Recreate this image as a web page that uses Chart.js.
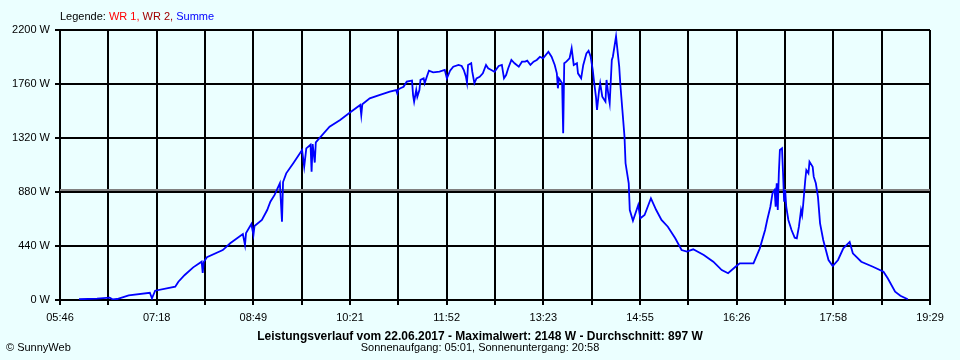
<!DOCTYPE html>
<html>
<head>
<meta charset="utf-8">
<script src="https://cdn.jsdelivr.net/npm/chart.js@4/dist/chart.umd.min.js"></script>
<style>
html,body{margin:0;padding:0;background:#EBFFFF;}
#wrap{position:relative;width:960px;height:360px;font-family:"Liberation Sans",Arial,sans-serif;font-size:11px;color:#000;overflow:hidden;}
#c{position:absolute;left:0;top:0;}
.t{position:absolute;white-space:nowrap;line-height:1;}
</style>
</head>
<body>
<div id="wrap">
<canvas id="c" width="960" height="360"></canvas>
<div class="t" style="left:60px;top:11px;">Legende: <span style="color:#FF0000">WR 1,</span> <span style="color:#A00000">WR 2,</span> <span style="color:#0000FF">Summe</span></div>
<div class="t" style="left:0;width:960px;text-align:center;top:330px;font-weight:bold;font-size:12px;">Leistungsverlauf vom 22.06.2017 - Maximalwert: 2148 W - Durchschnitt: 897 W</div>
<div class="t" style="left:0;width:960px;text-align:center;top:342px;">Sonnenaufgang: 05:01, Sonnenuntergang: 20:58</div>
<div class="t" style="left:6px;top:342px;">© SunnyWeb</div>
</div>
<script>
// Time in minutes since midnight
const X_MIN = 346;   // 05:46
const X_MAX = 1169;  // 19:29
const xTickLabels = ["05:46","07:18","08:49","10:21","11:52","13:23","14:55","16:26","17:58","19:29"];
const yTicks = [0, 440, 880, 1320, 1760, 2200];
const averageW = 897;

const times = [
 364,381,393,396,400,411,431,433,436,455,
 458,464,472,480,481,482,485,500,507,519,
 521,522,527,529,530,537,542,545,549,554,
 556,557,560,567,575,577,579,583,584,585,
 587,588,590,601,611,620,630,631,632,639,
 648,658,664,665,666,668,671,674,679,680,
 681,683,684,686,687,690,691,693,695,699,
 705,710,712,715,718,723,726,728,730,731,
 732,735,736,738,740,743,746,749,751,754,
 757,761,764,766,768,770,773,776,780,783,
 786,788,791,794,797,800,803,808,811,814,
 816,817,818,821,822,823,825,828,830,832,
 835,836,839,841,844,846,848,850,851,853,
 854,856,857,859,862,863,865,866,868,869,
 872,873,875,876,877,878,880,881,884,885,
 888,893,895,899,905,910,915,921,928,934,
 939,945,955,964,972,978,985,989,1002,1008,
 1013,1015,1018,1020,1022,1023,1024,1025,1026,1027,
 1029,1030,1031,1032,1033,1035,1038,1041,1043,1045,
 1047,1048,1049,1051,1052,1054,1055,1058,1059,1061,
 1063,1065,1068,1073,1077,1082,1087,1093,1096,1104,
 1115,1125,1129,1136,1141,1148
];
const summe = [
 6,11,19,4,8,38,59,14,76,108,
 149,204,266,312,220,310,348,407,462,538,
 448,546,619,530,603,652,733,801,856,951,
 638,961,1032,1119,1222,1086,1235,1265,1045,1270,
 1120,1285,1304,1412,1467,1526,1589,1507,1595,1643,
 1670,1697,1710,1684,1715,1725,1738,1779,1787,1670,
 1616,1711,1656,1711,1793,1806,1766,1819,1868,1855,
 1860,1874,1806,1868,1901,1915,1907,1874,1819,1771,
 1915,1929,1860,1766,1806,1819,1847,1915,1888,1874,
 1860,1907,1915,1806,1833,1888,1956,1929,1901,1942,
 1942,1950,1915,1942,1956,1982,1969,2023,1982,1915,
 1847,1725,1806,1766,1358,1929,1942,1969,2051,1915,
 1929,1847,1806,1915,2010,2031,1982,1874,1793,1656,
 1548,1711,1766,1656,1616,1793,1656,1603,1956,1982,
 2148,2064,1901,1766,1656,1548,1331,1114,951,733,
 646,774,666,693,829,733,652,597,503,407,
 394,413,367,312,244,218,271,299,299,421,
 570,652,760,869,896,760,951,733,1032,1222,
 1236,1032,801,896,760,652,570,508,503,597,
 733,693,774,978,1059,1032,1127,1086,1005,951,
 842,625,489,326,277,326,421,473,380,312,
 271,231,177,68,35,6
];

const avgLine = {
  id: 'avgLine',
  beforeDatasetsDraw(chart) {
    const {ctx, chartArea, scales} = chart;
    const y = Math.round(scales.y.getPixelForValue(averageW));
    ctx.save();
    ctx.strokeStyle = '#808080';
    ctx.lineWidth = 2;
    ctx.beginPath();
    ctx.moveTo(chartArea.left, y);
    ctx.lineTo(chartArea.right, y);
    ctx.stroke();
    ctx.restore();
  }
};

const font = {family: '"Liberation Sans", Arial, sans-serif', size: 11};

new Chart(document.getElementById('c'), {
  type: 'line',
  data: {
    datasets: [{
      label: 'Summe',
      data: times.map((t, i) => ({x: t, y: summe[i]})),
      borderColor: '#0000FF',
      borderWidth: 1.8,
      pointRadius: 0,
      tension: 0,
      fill: false
    }]
  },
  options: {
    responsive: false,
    animation: false,
    devicePixelRatio: 1,
    layout: {padding: {top: 30, right: 30, left: 0, bottom: 0}},
    plugins: {legend: {display: false}, tooltip: {enabled: false}},
    scales: {
      x: {
        type: 'linear',
        min: X_MIN, max: X_MAX,
        afterBuildTicks(s) {
          const n = (xTickLabels.length - 1) * 2;
          s.ticks = Array.from({length: n + 1}, (_, i) => ({value: X_MIN + i * (X_MAX - X_MIN) / n}));
        },
        afterFit(s) { s.height = 60; },
        grid: {color: '#000', lineWidth: 2, tickLength: 5, drawTicks: true},
        border: {color: '#000', width: 2},
        ticks: {
          autoSkip: false, maxRotation: 0, padding: 6, color: '#000', font,
          callback(v, i) { return i % 2 === 0 ? xTickLabels[i / 2] : ''; }
        }
      },
      y: {
        min: 0, max: 2200,
        afterBuildTicks(s) { s.ticks = yTicks.map(v => ({value: v})); },
        afterFit(s) { s.width = 60; },
        grid: {color: '#000', lineWidth: 2, tickLength: 5, drawTicks: true},
        border: {color: '#000', width: 2},
        ticks: {padding: 5, color: '#000', font, callback(v) { return v + ' W'; }}
      }
    }
  },
  plugins: [avgLine]
});
</script>
</body>
</html>
